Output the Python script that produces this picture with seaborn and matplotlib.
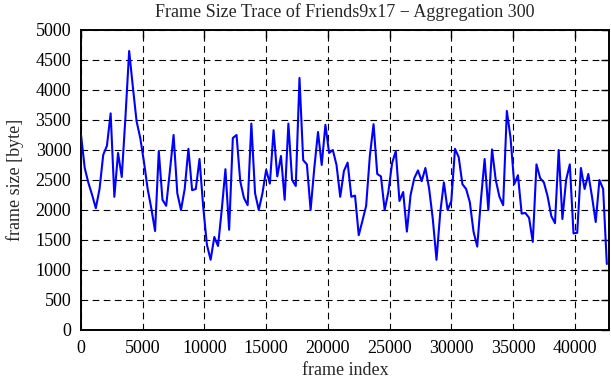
"""
Frame size trace (aggregation 300) -- gnuplot-like line plot.
"""
import pandas as pd
import matplotlib
matplotlib.use("Agg")
import matplotlib.pyplot as plt
import seaborn as sns

AGGREGATION = 300

frame_size = [
    3250, 2700, 2450, 2250, 2030, 2350, 2920, 3070, 3610, 2220,
    2950, 2550, 3550, 4650, 4050, 3480, 3200, 2800, 2350, 2020,
    1650, 2980, 2170, 2070, 2650, 3250, 2280, 2000, 2350, 3020,
    2330, 2350, 2850, 2050, 1420, 1170, 1550, 1400, 2000, 2680,
    1670, 3200, 3250, 2480, 2200, 2080, 3440, 2280, 2000, 2280,
    2670, 2440, 3330, 2560, 2900, 2170, 3440, 2500, 2400, 4200,
    2830, 2760, 2000, 2700, 3300, 2750, 3420, 2950, 3000, 2750,
    2220, 2650, 2790, 2220, 2240, 1580, 1820, 2070, 2900, 3430,
    2600, 2560, 2000, 2300, 2780, 2980, 2150, 2300, 1640, 2250,
    2530, 2660, 2480, 2700, 2360, 1850, 1170, 1950, 2460, 2000,
    2150, 3020, 2880, 2430, 2350, 2130, 1640, 1390, 2170, 2850,
    2000, 3010, 2500, 2220, 2080, 3650, 3200, 2430, 2580, 1940,
    1950, 1870, 1470, 2760, 2530, 2460, 2230, 1900, 1780, 3000,
    1850, 2500, 2760, 1610, 1620, 2700, 2350, 2600, 2220, 1800,
    2500, 2350, 1100,
]
frame_index = [i * AGGREGATION for i in range(len(frame_size))]

x_ticks = [0, 5000, 10000, 15000, 20000, 25000, 30000, 35000, 40000]
y_ticks = [0, 500, 1000, 1500, 2000, 2500, 3000, 3500, 4000, 4500, 5000]

df = pd.DataFrame({"frame index": frame_index, "frame size": frame_size})

sns.set_style("white")
plt.rcParams["font.family"] = ["Liberation Serif", "DejaVu Serif"]

fig = plt.figure(figsize=(6.11, 3.80), dpi=100)
ax = fig.add_axes([0.1326, 0.1316, 0.9962 - 0.1326, 0.9211 - 0.1316])

sns.lineplot(data=df, x="frame index", y="frame size", color="#0000ff",
             linewidth=1.5, ax=ax, zorder=3)

ax.set_xlim(0, 42750)
ax.set_ylim(0, 5000)
ax.set_xticks(x_ticks)
ax.set_yticks(y_ticks)
ax.grid(True, color="black", linestyle=(0, (6, 4)), linewidth=0.8)
ax.tick_params(direction="in", length=6, width=1.0, top=True, right=True,
               labelsize=13, colors="black", pad=7)
for side in ax.spines.values():
    side.set_visible(True)
    side.set_color("black")
    side.set_linewidth(1.4)

ax.set_title("Frame Size Trace of Friends9x17 \u2212 Aggregation 300",
             fontsize=13, pad=9)
ax.set_xlabel("frame index", fontsize=13, labelpad=4)
ax.set_ylabel("frame size [byte]", fontsize=13, labelpad=8)

fig.savefig("out.png", dpi=100)
